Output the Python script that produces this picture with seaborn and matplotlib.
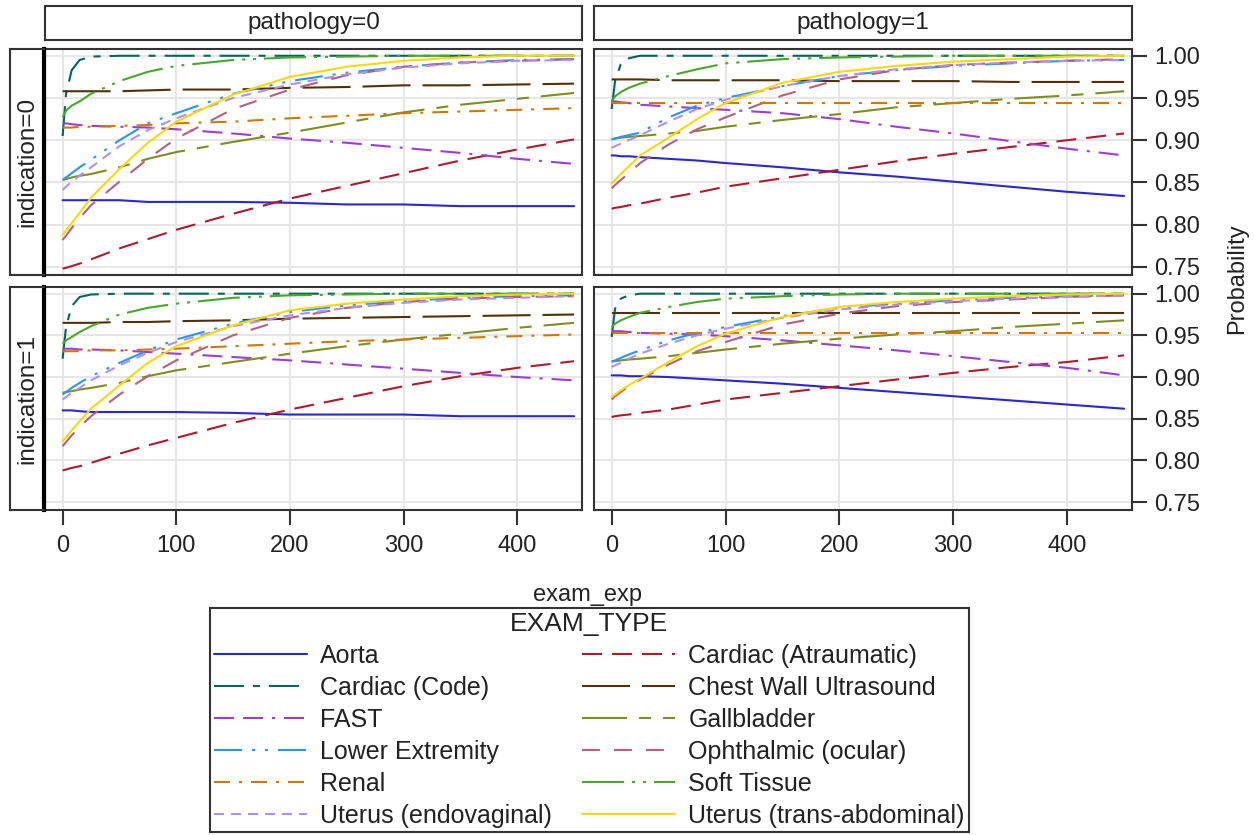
import numpy as np
import pandas as pd
import matplotlib
matplotlib.use("Agg")
import matplotlib.pyplot as plt
from matplotlib.lines import Line2D
import seaborn as sns

# ---------------- data ----------------
EXAM_TYPES = ["Aorta", "Cardiac (Atraumatic)", "Cardiac (Code)", "Chest Wall Ultrasound",
              "FAST", "Gallbladder", "Lower Extremity", "Ophthalmic (ocular)",
              "Renal", "Soft Tissue", "Uterus (endovaginal)", "Uterus (trans-abdominal)"]

EXAM_EXP = [0, 3, 8, 15, 25, 50, 75, 100, 150, 200, 250, 300, 350, 400, 450]

# indication=0, pathology=0
P_I0_P0 = {
    "Aorta":                    [.829, .829, .829, .829, .829, .829, .827, .827, .827, .826, .824, .824, .822, .822, .822],
    "Cardiac (Atraumatic)":     [.748, .749, .751, .754, .759, .772, .783, .794, .813, .831, .846, .861, .876, .889, .901],
    "Cardiac (Code)":           [.905, .955, .983, .995, .999, 1.0, 1.0, 1.0, 1.0, 1.0, 1.0, 1.0, 1.0, 1.0, 1.0],
    "Chest Wall Ultrasound":    [.958, .958, .958, .958, .958, .958, .959, .960, .960, .962, .963, .965, .965, .966, .967],
    "FAST":                     [.920, .920, .919, .918, .917, .916, .915, .913, .908, .902, .897, .891, .885, .878, .872],
    "Gallbladder":              [.853, .854, .856, .858, .860, .868, .878, .886, .898, .909, .921, .933, .942, .949, .956],
    "Lower Extremity":          [.853, .856, .861, .868, .877, .900, .920, .932, .955, .970, .980, .987, .992, .995, .996],
    "Ophthalmic (ocular)":      [.782, .787, .796, .808, .823, .851, .878, .902, .937, .960, .977, .987, .992, .994, .996],
    "Renal":                    [.915, .915, .915, .916, .916, .917, .918, .920, .922, .926, .929, .932, .934, .936, .938],
    "Soft Tissue":              [.927, .935, .941, .946, .955, .970, .981, .988, .995, .998, .999, 1.0, 1.0, 1.0, 1.0],
    "Uterus (endovaginal)":     [.841, .845, .851, .858, .868, .893, .912, .926, .950, .966, .978, .986, .991, .994, .995],
    "Uterus (trans-abdominal)": [.788, .793, .802, .814, .832, .866, .897, .922, .954, .975, .987, .994, .998, 1.0, 1.0],
}

# indication=0, pathology=1
P_I0_P1 = {
    "Aorta":                    [.882, .882, .881, .881, .880, .878, .876, .873, .868, .862, .857, .851, .845, .839, .834],
    "Cardiac (Atraumatic)":     [.819, .820, .821, .823, .825, .832, .838, .845, .855, .865, .875, .884, .892, .900, .908],
    "Cardiac (Code)":           [.937, .970, .990, .997, 1.0, 1.0, 1.0, 1.0, 1.0, 1.0, 1.0, 1.0, 1.0, 1.0, 1.0],
    "Chest Wall Ultrasound":    [.972, .972, .972, .972, .972, .971, .971, .971, .971, .970, .970, .970, .969, .969, .969],
    "FAST":                     [.946, .946, .945, .944, .942, .940, .938, .936, .932, .925, .916, .908, .899, .890, .882],
    "Gallbladder":              [.901, .902, .903, .904, .905, .908, .911, .916, .924, .931, .939, .944, .949, .953, .958],
    "Lower Extremity":          [.901, .902, .904, .906, .909, .927, .941, .950, .964, .976, .983, .988, .991, .994, .995],
    "Ophthalmic (ocular)":      [.843, .847, .853, .861, .873, .895, .913, .927, .953, .972, .983, .989, .992, .994, .996],
    "Renal":                    [.944, .944, .944, .944, .944, .944, .944, .944, .944, .944, .944, .944, .944, .944, .944],
    "Soft Tissue":              [.946, .952, .957, .962, .967, .976, .984, .991, .996, .998, .999, 1.0, 1.0, 1.0, 1.0],
    "Uterus (endovaginal)":     [.891, .893, .896, .900, .906, .922, .937, .948, .964, .976, .984, .989, .992, .994, .995],
    "Uterus (trans-abdominal)": [.849, .853, .860, .869, .882, .903, .925, .944, .968, .981, .988, .993, .996, .999, 1.0],
}

# indication=1, pathology=0
P_I1_P0 = {
    "Aorta":                    [.860, .860, .860, .859, .858, .858, .858, .858, .857, .855, .855, .855, .853, .853, .853],
    "Cardiac (Atraumatic)":     [.788, .789, .791, .793, .797, .808, .818, .827, .845, .861, .875, .889, .901, .911, .919],
    "Cardiac (Code)":           [.922, .960, .985, .996, .999, 1.0, 1.0, 1.0, 1.0, 1.0, 1.0, 1.0, 1.0, 1.0, 1.0],
    "Chest Wall Ultrasound":    [.965, .965, .965, .965, .965, .966, .966, .967, .968, .970, .971, .972, .973, .974, .975],
    "FAST":                     [.934, .934, .934, .933, .933, .932, .930, .928, .924, .920, .915, .910, .905, .900, .896],
    "Gallbladder":              [.881, .882, .883, .885, .887, .893, .901, .908, .918, .928, .937, .945, .952, .959, .965],
    "Lower Extremity":          [.879, .882, .887, .893, .901, .917, .932, .945, .964, .978, .986, .991, .995, .997, .998],
    "Ophthalmic (ocular)":      [.817, .822, .830, .840, .853, .879, .901, .920, .950, .971, .983, .990, .994, .996, .997],
    "Renal":                    [.931, .931, .931, .931, .932, .932, .933, .934, .937, .940, .943, .945, .947, .949, .951],
    "Soft Tissue":              [.940, .944, .948, .954, .961, .975, .983, .988, .995, .998, .999, 1.0, 1.0, 1.0, 1.0],
    "Uterus (endovaginal)":     [.873, .876, .881, .887, .896, .914, .929, .942, .961, .974, .983, .989, .993, .995, .997],
    "Uterus (trans-abdominal)": [.823, .828, .836, .847, .862, .890, .917, .937, .962, .980, .988, .993, .997, .999, 1.0],
}

# indication=1, pathology=1
P_I1_P1 = {
    "Aorta":                    [.902, .902, .902, .901, .901, .900, .898, .896, .892, .887, .882, .877, .872, .867, .862],
    "Cardiac (Atraumatic)":     [.852, .853, .854, .855, .857, .861, .867, .873, .881, .889, .897, .905, .912, .918, .926],
    "Cardiac (Code)":           [.948, .982, .994, .998, 1.0, 1.0, 1.0, 1.0, 1.0, 1.0, 1.0, 1.0, 1.0, 1.0, 1.0],
    "Chest Wall Ultrasound":    [.977, .977, .977, .977, .977, .977, .977, .977, .977, .977, .977, .977, .977, .977, .977],
    "FAST":                     [.955, .955, .955, .954, .953, .952, .951, .949, .944, .938, .932, .925, .918, .911, .902],
    "Gallbladder":              [.919, .919, .920, .921, .922, .925, .929, .933, .940, .946, .951, .955, .960, .964, .968],
    "Lower Extremity":          [.918, .920, .923, .927, .932, .944, .953, .960, .973, .983, .988, .992, .995, .997, .998],
    "Ophthalmic (ocular)":      [.873, .877, .882, .889, .897, .915, .931, .942, .963, .976, .985, .990, .993, .996, .998],
    "Renal":                    [.953, .953, .953, .953, .953, .953, .953, .953, .953, .953, .953, .953, .953, .953, .953],
    "Soft Tissue":              [.960, .964, .968, .972, .977, .984, .990, .994, .997, .999, 1.0, 1.0, 1.0, 1.0, 1.0],
    "Uterus (endovaginal)":     [.912, .914, .917, .922, .928, .940, .950, .958, .971, .981, .987, .991, .994, .996, .998],
    "Uterus (trans-abdominal)": [.876, .879, .884, .890, .898, .918, .937, .952, .972, .984, .990, .994, .997, .999, 1.0],
}

PANELS = {(0, 0): P_I0_P0, (0, 1): P_I0_P1, (1, 0): P_I1_P0, (1, 1): P_I1_P1}
COL_LABELS = ["pathology=0", "pathology=1"]
ROW_LABELS = ["indication=0", "indication=1"]
X_TICKS = [0, 100, 200, 300, 400]
Y_TICKS = [0.75, 0.80, 0.85, 0.90, 0.95, 1.00]
Y_TICK_LABELS = ["0.75", "0.80", "0.85", "0.90", "0.95", "1.00"]

# ---------------- styles ----------------
COLORS = ["#2A25D9", "#B2182B", "#01665E", "#543005", "#9D3CDB", "#7F8E1F",
          "#2597FA", "#B26084", "#D17800", "#47A82A", "#B38EF3", "#F9DA04"]
PX = 0.72  # points per pixel at 100 dpi
DASH_PX = [
    "",                          # Aorta solid
    (20, 10),                    # Cardiac Atraumatic
    (30, 9, 7, 9),               # Cardiac Code
    (48, 12),                    # Chest Wall
    (20, 9, 20, 9, 3, 9),        # FAST
    (45, 12, 12, 12),            # Gallbladder
    (28, 10, 3, 10, 3, 10),      # Lower Extremity
    (18, 14),                    # Ophthalmic
    (16, 9, 3, 9),               # Renal
    (42, 8, 3, 8, 3, 8),         # Soft Tissue
    (10, 7),                     # Uterus endo
    "",                          # Uterus trans
]
PALETTE = dict(zip(EXAM_TYPES, COLORS))
DASHES = {k: ("" if d == "" else tuple(v * PX for v in d)) for k, d in zip(EXAM_TYPES, DASH_PX)}

sns.set_style("white")
plt.rcParams["font.family"] = ["Liberation Sans", "DejaVu Sans"]
plt.rcParams["lines.scale_dashes"] = False

FS = 17
FS_HDR = 17.5
FS_LEG = 18
W, H = 1254, 835
fig = plt.figure(figsize=(W / 100, H / 100), dpi=100)


def add_px(l, t, r, b):
    return fig.add_axes([l / W, 1 - b / H, (r - l) / W, (b - t) / H])


COLS = [(45, 582), (594, 1132)]
ROWS = [(49, 275), (287, 510)]
FRAME = "#333333"
LW = 1.5

for (ri, ci), pdata in PANELS.items():
    l, r = COLS[ci]
    t, b = ROWS[ri]
    ax = add_px(l, t, r, b)
    rows = []
    for et in EXAM_TYPES:
        for xv, yv in zip(EXAM_EXP, pdata[et]):
            rows.append((et, xv, yv))
    df = pd.DataFrame(rows, columns=["EXAM_TYPE", "exam_exp", "Probability"])
    sns.lineplot(data=df, x="exam_exp", y="Probability", hue="EXAM_TYPE", style="EXAM_TYPE",
                 hue_order=EXAM_TYPES, style_order=EXAM_TYPES, palette=PALETTE, dashes=DASHES,
                 linewidth=LW, legend=False, errorbar=None, ax=ax)
    ax.set_xlim(-15.5, 457)
    ax.set_ylim(0.7405, 1.0080)
    ax.set_xticks(X_TICKS)
    ax.set_yticks(Y_TICKS)
    ax.grid(True, color="#e6e6e6", linewidth=1.4)
    ax.set_axisbelow(True)
    ax.set_xlabel("")
    ax.set_ylabel("")
    for s in ax.spines.values():
        s.set_color(FRAME)
        s.set_linewidth(1.5)
    ax.yaxis.tick_right()
    if ci == 1:
        ax.set_yticklabels(Y_TICK_LABELS)
        ax.tick_params(axis="y", right=True, length=10.8, width=1.5, color=FRAME,
                       labelsize=FS, pad=5, labelcolor="#222222")
    else:
        ax.tick_params(axis="y", right=False, left=False, labelright=False, labelleft=False)
    if ri == 1:
        ax.set_xticklabels([str(v) for v in X_TICKS])
        ax.tick_params(axis="x", bottom=True, length=10.8, width=1.5, color=FRAME,
                       labelsize=FS, pad=7, labelcolor="#222222")
    else:
        ax.tick_params(axis="x", bottom=False, labelbottom=False)

# column headers
for ci, lab in enumerate(COL_LABELS):
    l, r = COLS[ci]
    hx = add_px(l, 6, r, 40)
    hx.set_xticks([]); hx.set_yticks([])
    for s in hx.spines.values():
        s.set_color(FRAME); s.set_linewidth(1.5)
    hx.text(0.5, 0.5, lab, ha="center", va="center", fontsize=FS_HDR, color="#222222",
            transform=hx.transAxes)

# row headers
for ri, lab in enumerate(ROW_LABELS):
    t, b = ROWS[ri]
    hx = add_px(10, t, 44, b)
    hx.set_xticks([]); hx.set_yticks([])
    for s in hx.spines.values():
        s.set_color(FRAME); s.set_linewidth(1.5)
    hx.spines["right"].set_linewidth(3.0)
    hx.spines["right"].set_color("black")
    hx.text(0.5, 0.5, lab, ha="center", va="center", rotation=90, fontsize=FS_HDR,
            color="#222222", transform=hx.transAxes)

fig.text(588 / W, 1 - 595 / H, "exam_exp", ha="center", va="center", fontsize=FS, color="#222222")
fig.text(1237 / W, 1 - 279 / H, "Probability", ha="center", va="center", rotation=90,
         fontsize=FS, color="#222222")

# legend (row-major alphabetical as in reference -> reorder for column-major fill)
handles = [Line2D([0], [0], color=PALETTE[et], linewidth=LW,
                  linestyle="-" if DASHES[et] == "" else (0, DASHES[et])) for et in EXAM_TYPES]
order = list(range(0, 12, 2)) + list(range(1, 12, 2))
leg = fig.legend([handles[i] for i in order], [EXAM_TYPES[i] for i in order],
                 loc="upper center", bbox_to_anchor=(589.5 / W, 1 - 608 / H), ncol=2,
                 fontsize=FS_LEG, title="EXAM_TYPE", title_fontsize=19, frameon=True,
                 fancybox=False, edgecolor="black", handlelength=3.7, handletextpad=0.55,
                 columnspacing=1.2, labelspacing=0.32, borderpad=0.15, borderaxespad=0)
leg.get_frame().set_linewidth(1.5)
for txt in leg.get_texts():
    txt.set_color("#222222")
leg.get_title().set_color("#222222")

fig.savefig("out.png", dpi=100, facecolor="white")
